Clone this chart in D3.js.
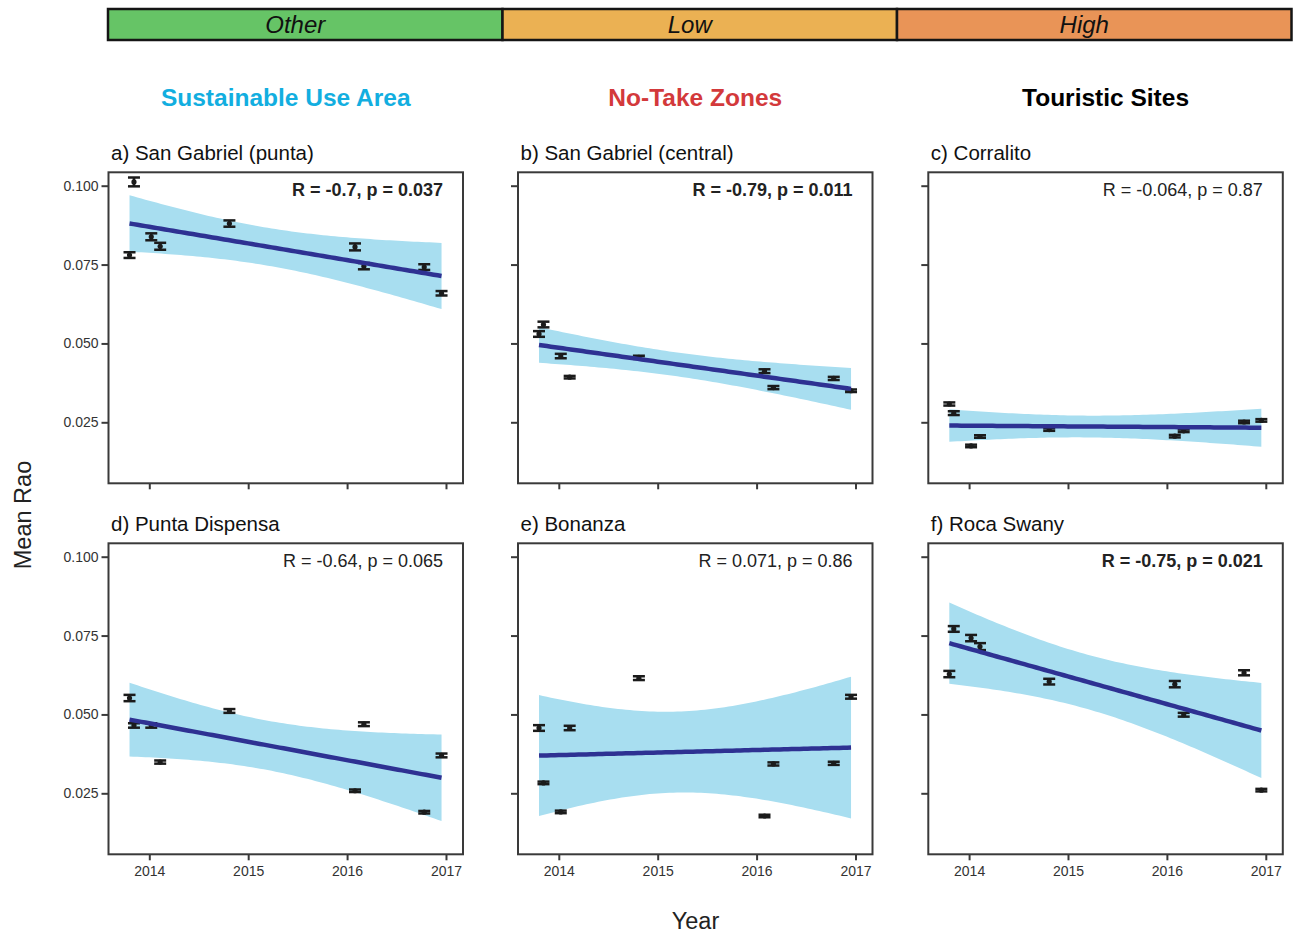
<!DOCTYPE html>
<html>
<head>
<meta charset="utf-8">
<script src="https://cdn.jsdelivr.net/npm/d3@7"></script>
<style>
  body { margin: 0; background: #fff; }
  text { font-family: "Liberation Sans", Arial, Helvetica, sans-serif; }
</style>
</head>
<body>
<div id="chart"></div>
<script>
// --- data ---
const surveyDates = [2013.80, 2013.845, 2014.02, 2014.11, 2014.81, 2016.08, 2016.17, 2016.78, 2016.955];

const siteNames = ["a) San Gabriel (punta)", "b) San Gabriel (central)", "c) Corralito",
                   "d) Punta Dispensa", "e) Bonanza", "f) Roca Swany"];

const raoSanGabrielPunta   = [0.0780, 0.1012, 0.0838, 0.0808, 0.0880, 0.0806, 0.0745, 0.0742, 0.0659];
const raoSanGabrielCentral = [0.0530, 0.0560, 0.0460, 0.0393, 0.0456, 0.0412, 0.0360, 0.0389, 0.0350];
const raoCorralito         = [0.0308, 0.0279, 0.0175, 0.0205, 0.0227, 0.0206, 0.0223, 0.0251, 0.0256];
const raoPuntaDispensa     = [0.0552, 0.0465, 0.0465, 0.0349, 0.0511, 0.0258, 0.0469, 0.0190, 0.0370];
const raoBonanza           = [0.0457, 0.0283, 0.0191, 0.0457, 0.0615, 0.0178, 0.0343, 0.0345, 0.0556];
const raoRocaSwany         = [0.0628, 0.0771, 0.0742, 0.0715, 0.0604, 0.0596, 0.0499, 0.0632, 0.0260];

const seSanGabrielPunta   = [0.0009, 0.0014, 0.0011, 0.0011, 0.0010, 0.0011, 0.0010, 0.0009, 0.0007];
const seSanGabrielCentral = [0.0009, 0.0009, 0.0007, 0.0004, 0.0005, 0.0006, 0.0005, 0.0005, 0.0004];
const seCorralito         = [0.0005, 0.0006, 0.0004, 0.0004, 0.0004, 0.0004, 0.0004, 0.0004, 0.0004];
const sePuntaDispensa     = [0.0010, 0.0007, 0.0007, 0.0005, 0.0006, 0.0004, 0.0006, 0.0004, 0.0006];
const seBonanza           = [0.0009, 0.0004, 0.0004, 0.0007, 0.0006, 0.0004, 0.0005, 0.0005, 0.0006];
const seRocaSwany         = [0.0010, 0.0009, 0.0010, 0.0011, 0.0009, 0.0010, 0.0006, 0.0008, 0.0004];

const statLabels = ["R = -0.7, p = 0.037", "R = -0.79, p = 0.011", "R = -0.064, p = 0.87",
                    "R = -0.64, p = 0.065", "R = 0.071, p = 0.86", "R = -0.75, p = 0.021"];
const statSignificant = [true, true, false, false, false, true];

const zoneNames = ["Sustainable Use Area", "No-Take Zones", "Touristic Sites"];
const zoneColors = ["#12aee0", "#d3393b", "#000000"];

const pressureLabels = ["Other", "Low", "High"];
const pressureColors = ["#66c466", "#ebb153", "#e99457"];

const yTicks = [0.025, 0.050, 0.075, 0.100];
const xTicks = [2014, 2015, 2016, 2017];

const raoSeries = [raoSanGabrielPunta, raoSanGabrielCentral, raoCorralito,
                   raoPuntaDispensa, raoBonanza, raoRocaSwany];
const seSeries = [seSanGabrielPunta, seSanGabrielCentral, seCorralito,
                  sePuntaDispensa, seBonanza, seRocaSwany];

// --- layout ---
const canvasWidth = 1293;
const canvasHeight = 936;
const panelWidth = 354.5;
const panelHeight = 311;
const panelLeft = [108.5, 518, 928.3];
const panelTop = [172.3, 543.3];
const tCrit = 2.364624; // t(0.975, df = 7)

const svg = d3.select("#chart")
  .append("svg")
  .attr("width", canvasWidth)
  .attr("height", canvasHeight);

const x = d3.scaleLinear().domain([2013.5875, 2017.172]).range([0, panelWidth]);
const y = d3.scaleLinear().domain([0.00566, 0.10425]).range([panelHeight, 0]);

/**
 * Banner with pressure levels
 */
const bannerX = d3.scaleBand().domain(pressureLabels).range([108, 1291.5]);

const banner = svg.append("g");
banner.selectAll("rect")
  .data(pressureLabels)
  .join("rect")
  .attr("x", d => bannerX(d))
  .attr("y", 9)
  .attr("width", bannerX.bandwidth())
  .attr("height", 31)
  .attr("fill", (d, i) => pressureColors[i])
  .attr("stroke", "#151515")
  .attr("stroke-width", 2.5);

banner.selectAll("text")
  .data(pressureLabels)
  .join("text")
  .attr("x", d => bannerX(d) + bannerX.bandwidth() / 2 - 10)
  .attr("y", 33)
  .attr("text-anchor", "middle")
  .style("font-size", "24px")
  .style("font-style", "italic")
  .attr("fill", "#111")
  .text(d => d);

/**
 * Zone titles
 */
svg.selectAll(".zone")
  .data(zoneNames)
  .join("text")
  .attr("class", "zone")
  .attr("x", (d, i) => panelLeft[i] + panelWidth / 2)
  .attr("y", 106)
  .attr("text-anchor", "middle")
  .style("font-size", "24.5px")
  .style("font-weight", "bold")
  .attr("fill", (d, i) => zoneColors[i])
  .text(d => d);

/**
 * Linear fit with 95% confidence band
 */
function fitLinear(xs, ys) {
  const mx = d3.mean(xs), my = d3.mean(ys);
  const sxx = d3.sum(xs, v => (v - mx) ** 2);
  const sxy = d3.sum(xs, (v, i) => (v - mx) * (ys[i] - my));
  const slope = sxy / sxx;
  const intercept = my - slope * mx;
  const sse = d3.sum(xs, (v, i) => (ys[i] - intercept - slope * v) ** 2);
  const s = Math.sqrt(sse / (xs.length - 2));
  const [x0, x1] = d3.extent(xs);
  return d3.range(80).map(k => {
    const xv = x0 + (x1 - x0) * k / 79;
    const fit = intercept + slope * xv;
    const half = tCrit * s * Math.sqrt(1 / xs.length + (xv - mx) ** 2 / sxx);
    return { x: xv, fit: fit, lo: fit - half, hi: fit + half };
  });
}

/**
 * Draw panels
 */
siteNames.forEach((name, p) => {
  const col = p % 3, row = Math.floor(p / 3);
  const g = svg.append("g")
    .attr("transform", `translate(${panelLeft[col]}, ${panelTop[row]})`);

  const values = raoSeries[p];
  const errors = seSeries[p];
  const pts = surveyDates.map((d, i) => ({ x: d, v: values[i], se: errors[i] }));
  const band = fitLinear(surveyDates, values);

  // ribbon
  g.append("path")
    .datum(band)
    .attr("fill", "#a8def0")
    .attr("d", d3.area().x(d => x(d.x)).y0(d => y(d.lo)).y1(d => y(d.hi)));

  // error bars
  const eb = g.selectAll(".eb")
    .data(pts)
    .join("g")
    .attr("class", "eb")
    .attr("stroke", "#1b1b1b")
    .attr("stroke-width", 2.5);
  eb.append("line")
    .attr("x1", d => x(d.x)).attr("x2", d => x(d.x))
    .attr("y1", d => y(d.v - d.se)).attr("y2", d => y(d.v + d.se));
  eb.append("line")
    .attr("x1", d => x(d.x) - 6).attr("x2", d => x(d.x) + 6)
    .attr("y1", d => y(d.v - d.se)).attr("y2", d => y(d.v - d.se));
  eb.append("line")
    .attr("x1", d => x(d.x) - 6).attr("x2", d => x(d.x) + 6)
    .attr("y1", d => y(d.v + d.se)).attr("y2", d => y(d.v + d.se));

  g.selectAll(".pt")
    .data(pts)
    .join("circle")
    .attr("class", "pt")
    .attr("cx", d => x(d.x))
    .attr("cy", d => y(d.v))
    .attr("r", 2.6)
    .attr("fill", "#1b1b1b");

  // regression line
  g.append("path")
    .datum(band)
    .attr("fill", "none")
    .attr("stroke", "#2e3192")
    .attr("stroke-width", 4.5)
    .attr("d", d3.line().x(d => x(d.x)).y(d => y(d.fit)));

  // axes
  const yAxis = g.append("g")
    .call(d3.axisLeft(y).tickValues(yTicks).tickSize(7).tickPadding(3)
      .tickFormat(col === 0 ? d3.format(".3f") : () => ""));
  const xAxis = g.append("g")
    .attr("transform", `translate(0, ${panelHeight})`)
    .call(d3.axisBottom(x).tickValues(xTicks).tickSize(6).tickPadding(6)
      .tickFormat(row === 1 ? d3.format("d") : () => ""));
  [yAxis, xAxis].forEach(a => {
    a.select(".domain").remove();
    a.selectAll("line").attr("stroke", "#3a3a3a").attr("stroke-width", 2);
    a.selectAll("text")
      .attr("fill", "#333")
      .style("font-size", "14px")
      .style("font-family", "'Liberation Sans', Arial, sans-serif");
  });

  // frame
  g.append("rect")
    .attr("width", panelWidth)
    .attr("height", panelHeight)
    .attr("fill", "none")
    .attr("stroke", "#3a3a3a")
    .attr("stroke-width", 2);

  // panel title
  g.append("text")
    .attr("x", 2.5)
    .attr("y", -12)
    .style("font-size", "20.5px")
    .attr("fill", "#111")
    .text(name);

  // correlation label
  g.append("text")
    .attr("x", panelWidth - 20)
    .attr("y", 24)
    .attr("text-anchor", "end")
    .style("font-size", "18px")
    .style("font-weight", statSignificant[p] ? "bold" : "normal")
    .attr("fill", "#222")
    .text(statLabels[p]);
});

/**
 * Axis titles
 */
svg.append("text")
  .attr("x", 695.5)
  .attr("y", 929)
  .attr("text-anchor", "middle")
  .style("font-size", "23.5px")
  .attr("fill", "#222")
  .text("Year");

svg.append("text")
  .attr("transform", "translate(31, 515) rotate(-90)")
  .attr("text-anchor", "middle")
  .style("font-size", "23.5px")
  .attr("fill", "#222")
  .text("Mean Rao");
</script>
</body>
</html>
